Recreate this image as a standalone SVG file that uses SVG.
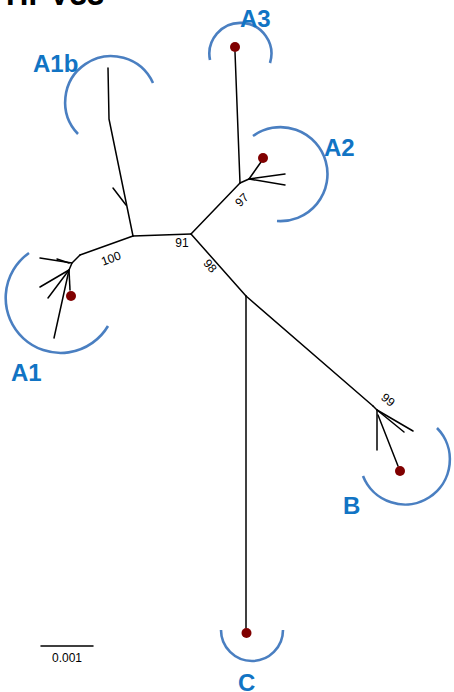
<svg xmlns="http://www.w3.org/2000/svg" width="454" height="692" viewBox="0 0 454 692">
<style>
.br{stroke:#000;stroke-width:1.5;fill:none;stroke-linecap:round;stroke-linejoin:round}
.arc{stroke:#4a7fc1;stroke-width:2.6;fill:none}
.dot{fill:#800000}
.lab{font-family:"Liberation Sans",Arial,sans-serif;font-weight:bold;font-size:24px;fill:#1174c4}
.bs{font-family:"Liberation Sans",Arial,sans-serif;font-size:12px;fill:#000}
.title{font-family:"Liberation Sans",Arial,sans-serif;font-weight:bold;font-size:31px;fill:#000}
</style>
<rect width="454" height="692" fill="#fff"/>
<text class="title" x="6" y="5">HPV33</text>
<g id="connectors">
<path class="br" d="M133,236 L191,234"/>
<path class="br" d="M133,236 L109,119 L108,68"/>
<path class="br" d="M113,188 L126,205"/>
<path class="br" d="M133,236 L80,255"/>
<path class="br" d="M191,234 L240,183"/>
<path class="br" d="M191,234 L246,296"/>
<path class="br" d="M246,296 L373,406"/>
</g>
<g id="A1b">
<path class="arc" d="M78,134 A46,46 0 1 1 153,83"/>
<text class="lab" x="33" y="72">A1b</text>
</g>
<g id="A1">
<path class="br" d="M80,255 L72,263 L40,258"/>
<path class="br" d="M57,259 L69,263"/>
<path class="br" d="M72,263 L69,270 L40,287"/>
<path class="br" d="M69,270 L48,298"/>
<path class="br" d="M69,270 L54,338"/>
<path class="br" d="M69,270 L70,290"/>
<circle class="dot" cx="71" cy="296" r="5"/>
<path class="arc" d="M29,253 A55,55 0 1 0 108,326"/>
<text class="lab" x="11" y="381">A1</text>
</g>
<g id="A3">
<path class="br" d="M240,183 L235,52"/>
<circle class="dot" cx="235" cy="47" r="5"/>
<path class="arc" d="M210,60 A31,31 0 1 1 270,63"/>
<text class="lab" x="240" y="27">A3</text>
</g>
<g id="A2">
<path class="br" d="M240,183 L249,179 L261,162"/>
<path class="br" d="M249,179 L285,174"/>
<path class="br" d="M249,179 L285,185"/>
<circle class="dot" cx="263" cy="158" r="5"/>
<path class="arc" d="M253,136 A47,47 0 1 1 277,221"/>
<text class="lab" x="324" y="156">A2</text>
</g>
<g id="B">
<path class="br" d="M373,406 L377,410 L413,431"/>
<path class="br" d="M377,410 L404,432"/>
<path class="br" d="M377,410 L377,450"/>
<path class="br" d="M378,415 L398,466"/>
<circle class="dot" cx="400" cy="471" r="5"/>
<path class="arc" d="M437,428 A45,45 0 1 1 363,476"/>
<text class="lab" x="343" y="514">B</text>
</g>
<g id="C">
<path class="br" d="M246,296 L246,628"/>
<circle class="dot" cx="246.5" cy="633" r="5"/>
<path class="arc" d="M221,630 A31,31 0 0 0 283,630"/>
<text class="lab" x="238" y="691">C</text>
</g>
<g id="support">
<text class="bs" x="182" y="247" text-anchor="middle">91</text>
<text class="bs" text-anchor="middle" transform="translate(111,258.5) rotate(-20)" y="4">100</text>
<text class="bs" text-anchor="middle" transform="translate(242,200) rotate(-45)" y="4">97</text>
<text class="bs" text-anchor="middle" transform="translate(210,266) rotate(50)" y="4">98</text>
<text class="bs" text-anchor="middle" transform="translate(388,400) rotate(40)" y="4">99</text>
</g>
<g id="scale">
<path class="br" d="M41,646 L93,646" stroke-linecap="butt"/>
<text class="bs" x="67" y="662" text-anchor="middle">0.001</text>
</g>
</svg>
